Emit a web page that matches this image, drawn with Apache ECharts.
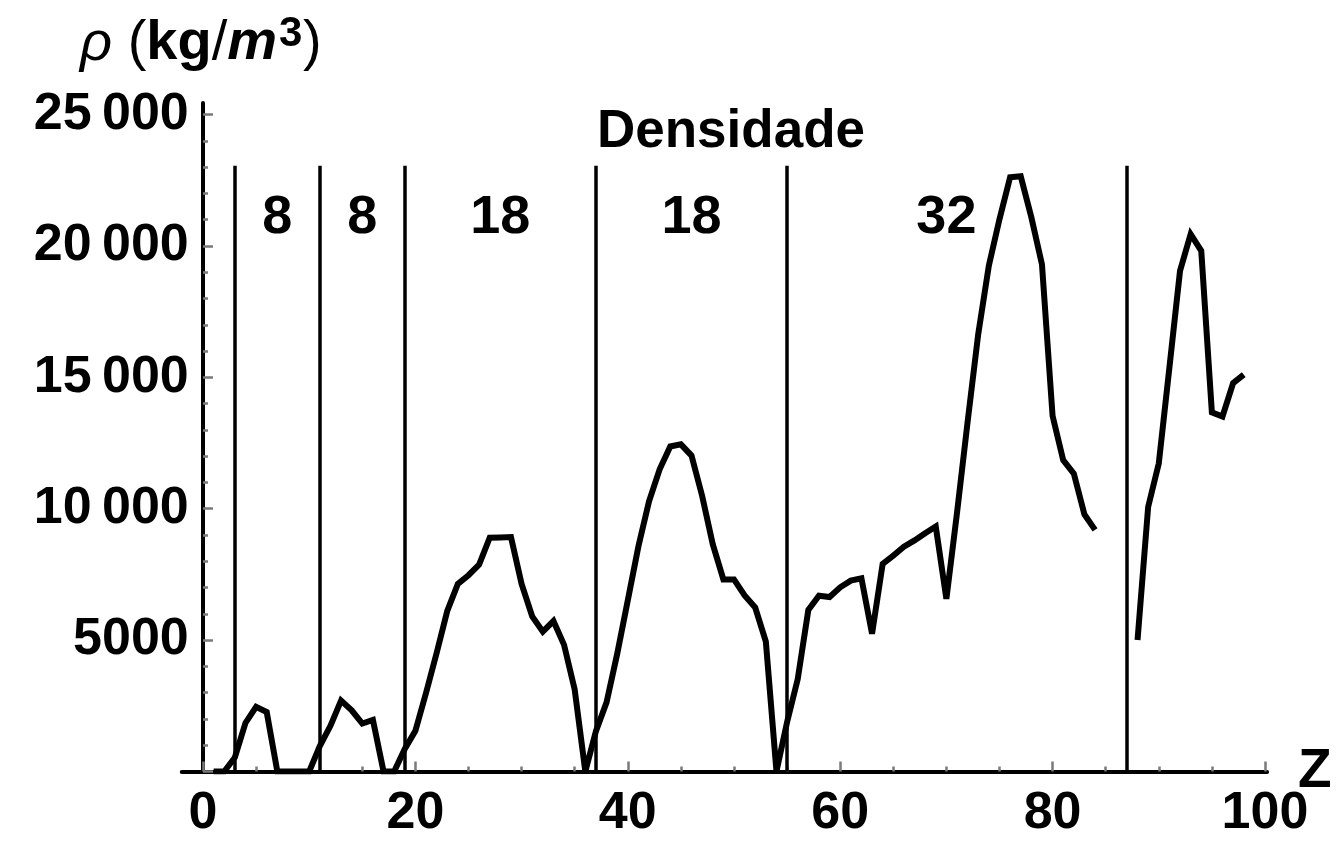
<!DOCTYPE html>
<html>
<head>
<meta charset="utf-8">
<script src="https://cdn.jsdelivr.net/npm/echarts@6/dist/echarts.min.js"></script>
<style>html,body{margin:0;padding:0;background:#fff}#c{width:1338px;height:841px}</style>
</head>
<body>
<div id="c"></div>
<script>
// Atomic number Z
const atomicNumbers = [
  1,2,3,4,5,6,7,8,9,10,11,12,13,14,15,16,17,18,19,20,
  21,22,23,24,25,26,27,28,29,30,31,32,33,34,35,36,37,38,39,40,
  41,42,43,44,45,46,47,48,49,50,51,52,53,54,55,56,57,58,59,60,
  61,62,63,64,65,66,67,68,69,70,71,72,73,74,75,76,77,78,79,80,
  81,82,83,84,85,86,87,88,89,90,91,92,93,94,95,96,97,98
];
// Density rho (kg/m^3), null where missing
const densities = [
  0.09, 0.18, 535, 1848, 2460, 2260, 1.25, 1.43, 1.7, 0.9,
  968, 1738, 2700, 2330, 1823, 1960, 3.2, 1.78,
  856, 1550, 2985, 4507, 6110, 7140, 7470, 7874, 8900, 8908, 8920, 7140, 5904, 5323, 5727, 4819, 3120, 3.75,
  1532, 2630, 4472, 6511, 8570, 10280, 11500, 12370, 12450, 12023, 10490, 8650, 7310, 7310, 6697, 6240, 4940, 5.9,
  1879, 3510, 6146, 6689, 6640, 7010, 7264, 7353, 5244, 7901, 8219, 8551, 8795, 9066, 9321, 6570,
  9841, 13310, 16650, 19250, 21020, 22610, 22650, 21090, 19300, 13534, 11850, 11340, 9780, 9196, null, null, null,
  5000, 10070, 11724, 15370, 19050, 20450, 19816, 13670, 13510, 14780, 15100
];
// Period boundaries (first Z of each period) and period sizes
const periodStarts = [3, 11, 19, 37, 55, 87];
const periodLabelZ = [7, 15, 28, 46, 70];
const periodCounts = ['8', '8', '18', '18', '32'];
const periodLabelY = 21050;
const periodLineTop = 23050;

// Ticks
const xMajorTicks = [0, 20, 40, 60, 80, 100];
const xMinorTicks = [5, 10, 15, 25, 30, 35, 45, 50, 55, 65, 70, 75, 85, 90, 95];
const yMajorTicks = [0, 5000, 10000, 15000, 20000, 25000];
const yTickLabels = [5000, 10000, 15000, 20000, 25000];
const yMinorTicks = [1000, 2000, 3000, 4000, 6000, 7000, 8000, 9000, 11000, 12000, 13000, 14000,
  16000, 17000, 18000, 19000, 21000, 22000, 23000, 24000];

const FONT = '"Liberation Sans", Arial, Helvetica, sans-serif';
const xMin = -2, xMax = 100.2, yMin = 0, yMax = 25440;

const seriesData = atomicNumbers.map((z, i) => [z, densities[i]]);

function fmtY(v) {
  const s = String(v);
  if (v >= 10000) return s.slice(0, s.length - 3) + '\u2009' + s.slice(s.length - 3);
  return s;
}

const tickStyle = { color: '#7a7a7a', width: 2.5 };
const axisLineStyle = { color: '#000', width: 4 };

const chart = echarts.init(document.getElementById('c'), null, { renderer: 'canvas' });
chart.setOption({
  animation: false,
  backgroundColor: '#fff',
  grid: { left: 181.76, right: 70.9, top: 103, bottom: 69.5, containLabel: false, outerBoundsMode: 'none' },
  xAxis: [
    {
      type: 'value', min: xMin, max: xMax,
      axisLine: { show: true, onZero: true, lineStyle: axisLineStyle },
      axisTick: { show: true, inside: true, length: 10, customValues: xMajorTicks, lineStyle: tickStyle },
      axisLabel: { show: true, customValues: xMajorTicks, fontSize: 52, fontWeight: 'bold', color: '#000', fontFamily: FONT, margin: 16 },
      splitLine: { show: false },
      name: 'Z', nameLocation: 'end', nameGap: 31, nameMoveOverlap: false,
      nameTextStyle: { fontSize: 55, fontWeight: 'bold', color: '#000', fontFamily: FONT, align: 'left', verticalAlign: 'middle' }
    },
    {
      type: 'value', min: xMin, max: xMax, position: 'bottom',
      axisLine: { show: false, onZero: true },
      axisTick: { show: true, inside: true, length: 5, customValues: xMinorTicks, lineStyle: tickStyle },
      axisLabel: { show: false },
      splitLine: { show: false }
    }
  ],
  yAxis: [
    {
      type: 'value', min: yMin, max: yMax,
      axisLine: { show: true, onZero: true, lineStyle: axisLineStyle },
      axisTick: { show: true, inside: true, length: 10, customValues: yMajorTicks, lineStyle: tickStyle },
      axisLabel: { show: true, customValues: yTickLabels, formatter: fmtY, fontSize: 52, fontWeight: 'bold', color: '#000', fontFamily: FONT, margin: -7 },
      splitLine: { show: false }
    },
    {
      type: 'value', min: yMin, max: yMax, position: 'left',
      axisLine: { show: false, onZero: true },
      axisTick: { show: true, inside: true, length: 5, customValues: yMinorTicks, lineStyle: tickStyle },
      axisLabel: { show: false },
      splitLine: { show: false }
    }
  ],
  series: [
    {
      type: 'scatter',
      xAxisIndex: 0, yAxisIndex: 0,
      data: periodLabelZ.map(z => [z, periodLabelY]),
      symbolSize: 1,
      itemStyle: { color: 'rgba(0,0,0,0)', opacity: 1 },
      silent: true,
      label: {
        show: true, position: 'inside',
        formatter: p => periodCounts[p.dataIndex],
        fontSize: 54, fontWeight: 'bold', color: '#000', fontFamily: FONT
      },
      markLine: {
        silent: true, animation: false,
        symbol: ['none', 'none'],
        label: { show: false },
        lineStyle: { color: '#000', width: 3.5, type: 'solid', opacity: 1 },
        emphasis: { disabled: true },
        data: periodStarts.map(z => [{ coord: [z, 0] }, { coord: [z, periodLineTop] }])
      },
      z: 2
    },
    {
      type: 'line',
      xAxisIndex: 0, yAxisIndex: 0,
      data: seriesData,
      showSymbol: false, symbol: 'none',
      connectNulls: false,
      silent: true,
      lineStyle: { color: '#000', width: 6, join: 'miter', miterLimit: 2.5, cap: 'butt' },
      z: 3
    }
  ],
  graphic: [
    {
      type: 'text', x: 731, y: 132, silent: true,
      style: {
        text: 'Densidade', fill: '#000',
        font: 'bold 53px ' + FONT,
        align: 'center', verticalAlign: 'middle',
        textAlign: 'center', textVerticalAlign: 'middle'
      }
    },
    {
      type: 'text', x: 80, y: 44, silent: true,
      style: {
        text: '{it|ρ}{n| (}{b|kg}{n|/}{bi|m}',
        fill: '#000',
        font: '56px ' + FONT,
        align: 'left', verticalAlign: 'middle',
        textAlign: 'left', textVerticalAlign: 'middle',
        rich: {
          it: { fontSize: 56, fontFamily: FONT, fontStyle: 'italic', fontWeight: 'normal', lineHeight: 56, fill: '#000' },
          n: { fontSize: 56, fontFamily: FONT, fontWeight: 'normal', lineHeight: 56, fill: '#000' },
          b: { fontSize: 56, fontFamily: FONT, fontWeight: 'bold', lineHeight: 56, fill: '#000' },
          bi: { fontSize: 56, fontFamily: FONT, fontWeight: 'bold', fontStyle: 'italic', lineHeight: 56, fill: '#000' }
        }
      }
    },
    {
      type: 'text', x: 279, y: 34, silent: true,
      style: {
        text: '3', fill: '#000',
        font: 'bold 42px ' + FONT,
        align: 'left', verticalAlign: 'middle',
        textAlign: 'left', textVerticalAlign: 'middle'
      }
    },
    {
      type: 'text', x: 303, y: 44, silent: true,
      style: {
        text: ')', fill: '#000',
        font: '56px ' + FONT,
        align: 'left', verticalAlign: 'middle',
        textAlign: 'left', textVerticalAlign: 'middle'
      }
    }
  ]
});
</script>
</body>
</html>
